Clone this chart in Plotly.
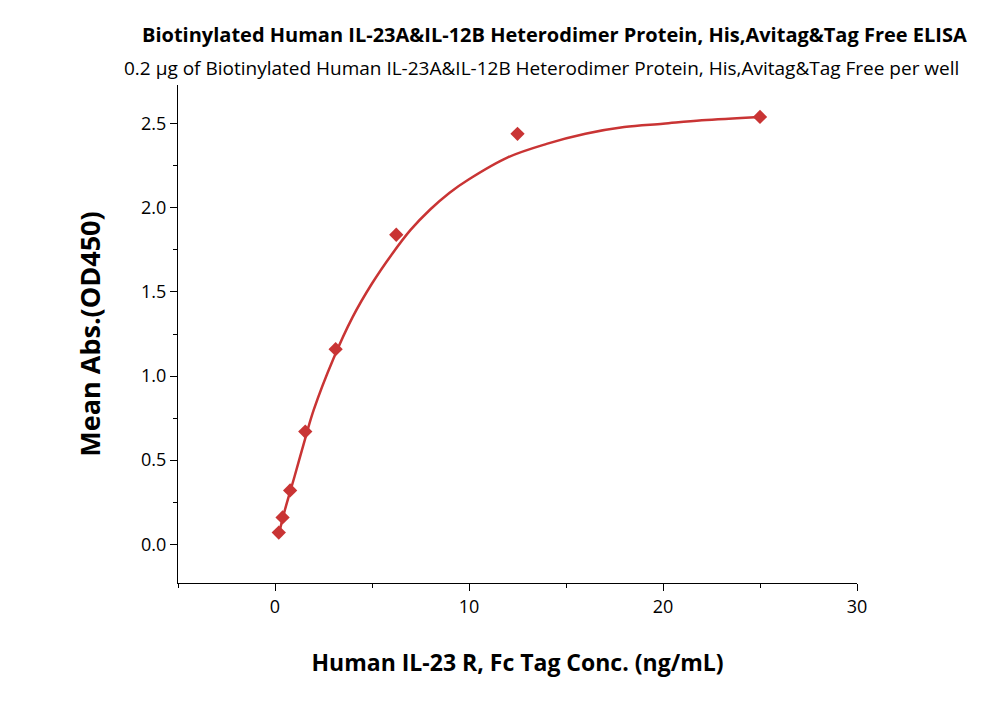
import plotly.graph_objects as go

conc = [0.195, 0.39, 0.78, 1.56, 3.125, 6.25, 12.5, 25]
od450 = [0.07, 0.16, 0.32, 0.67, 1.16, 1.84, 2.44, 2.54]

# fitted curve
fit_x = [0.2, 0.5, 1, 1.56, 2, 3, 4, 5, 6, 7, 8, 9, 10, 12, 14, 16, 18, 20, 22, 25]
fit_y = [0.06, 0.2, 0.4, 0.63, 0.8, 1.1, 1.35, 1.55, 1.72, 1.87, 1.99, 2.09, 2.17,
         2.3, 2.38, 2.44, 2.48, 2.5, 2.52, 2.54]

red = "#c93434"
font = "Open Sans"

fig = go.Figure()
fig.add_trace(go.Scatter(x=fit_x, y=fit_y, mode="lines", line=dict(color=red, width=2.5, shape="spline")))
fig.add_trace(go.Scatter(x=conc, y=od450, mode="markers",
                         marker=dict(symbol="diamond", size=11, color=red)))

axis_common = dict(showgrid=False, zeroline=False, showline=True, linecolor="black", linewidth=1,
                   ticks="outside", ticklen=7, tickcolor="black", automargin=False,
                   tickfont=dict(family=font, size=18, color="black"),
                   minor=dict(ticks="outside", ticklen=4, tickcolor="black"))

# plot area in page pixels (page has an 8px offset)
L, T, R, B = 170, 77, 849, 575
W, H = R - L, B - T

fig.update_layout(
    width=1000, height=702, showlegend=False,
    paper_bgcolor="white", plot_bgcolor="white",
    margin=dict(l=L, r=1000 - R, t=T, b=702 - B),
    font=dict(family=font),
    xaxis=dict(range=[-5, 30], tickvals=[0, 10, 20, 30], minor_dtick=5,
               title=dict(text="<b>Human IL-23 R, Fc Tag Conc. (ng/mL)</b>", font=dict(size=23, color="black"), standoff=38),
               **axis_common),
    yaxis=dict(range=[-0.23, 2.73], tickvals=[0, 0.5, 1, 1.5, 2, 2.5], ticktext=["0.0", "0.5", "1.0", "1.5", "2.0", "2.5"],
               minor_dtick=0.25,
               title=dict(text="<b>Mean Abs.(OD450)</b>", font=dict(size=27, color="black"), standoff=32),
               **axis_common),
    annotations=[
        dict(text="<b>Biotinylated Human IL-23A&IL-12B Heterodimer Protein, His,Avitag&Tag Free ELISA</b>",
             xref="paper", yref="paper", x=(546 - L) / W, y=(B - 26) / H,
             xanchor="center", yanchor="middle", showarrow=False,
             font=dict(size=20, color="black")),
        dict(text="0.2 μg of Biotinylated Human IL-23A&IL-12B Heterodimer Protein, His,Avitag&Tag Free per well",
             xref="paper", yref="paper", x=(533 - L) / W, y=(B - 60) / H,
             xanchor="center", yanchor="middle", showarrow=False,
             font=dict(size=19, color="black")),
    ],
)

fig.write_html("out.html")
